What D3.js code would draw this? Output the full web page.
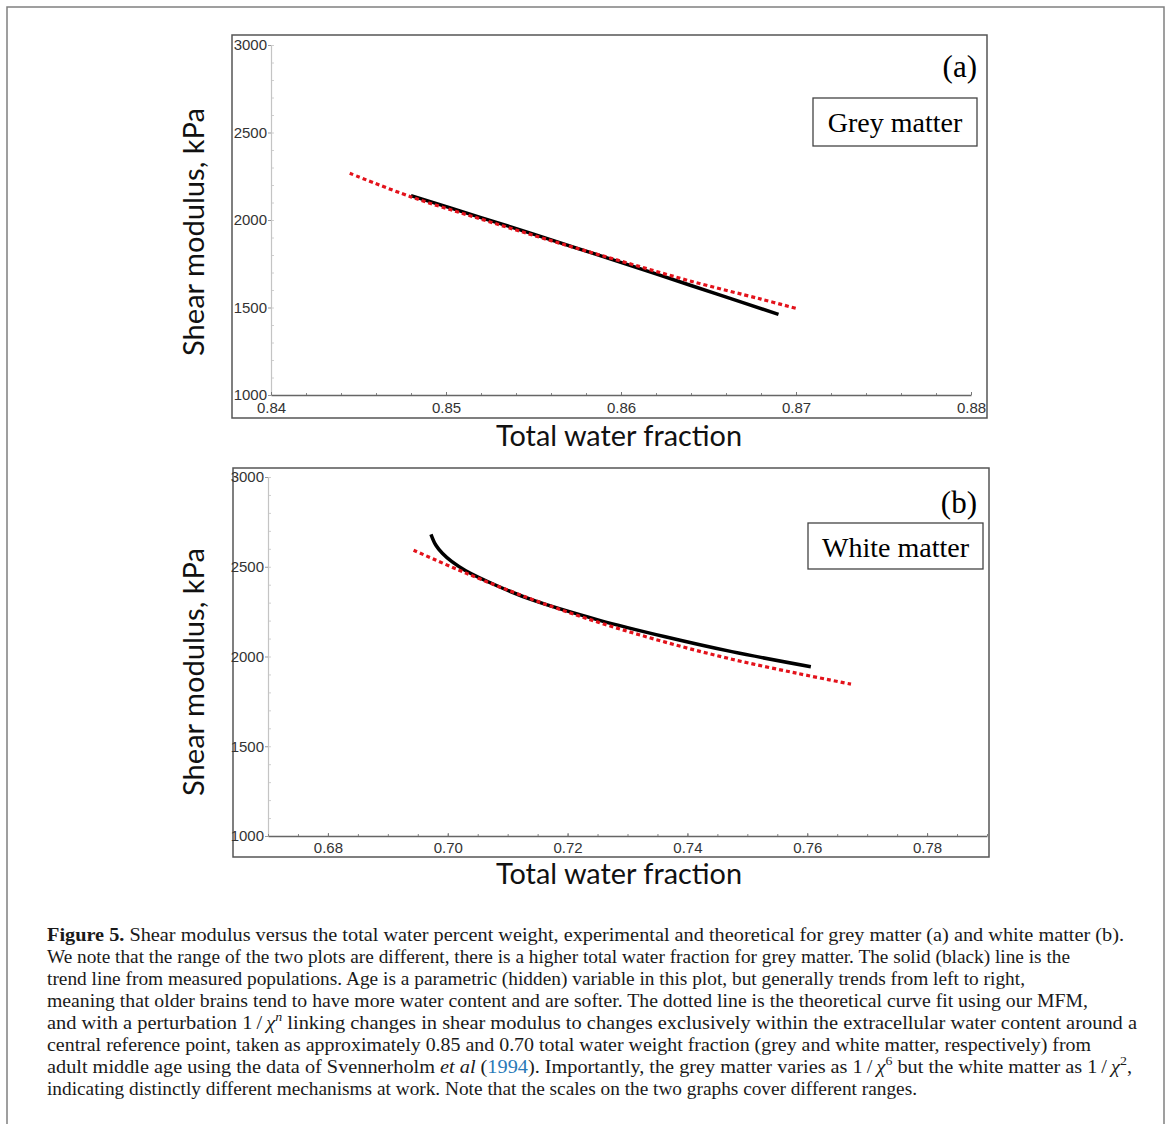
<!DOCTYPE html>
<html>
<head>
<meta charset="utf-8">
<script src="https://cdn.jsdelivr.net/npm/d3@7"></script>
<style>
  body { margin: 0; background: #fff; }
</style>
</head>
<body>
<div class="chart"></div>
<script>
// (a) grey matter: measured trend and MFM fit
const greyWater = [0.848, 0.852, 0.855, 0.8585, 0.862, 0.8655, 0.869];
const greyTrend = [2139, 2014, 1919, 1806, 1692, 1576, 1461];
const greyFitWater = [0.8445, 0.848, 0.852, 0.856, 0.860, 0.864, 0.868, 0.870];
const greyFit = [2267, 2132, 2005, 1882, 1765, 1650, 1548, 1495];
const greyXTicks = [0.84, 0.85, 0.86, 0.87, 0.88];

// (b) white matter
const whiteWater = [0.6972, 0.6980, 0.6991, 0.7007, 0.7030, 0.7085, 0.7141, 0.7252, 0.7363, 0.7474, 0.7606];
const whiteTrend = [2681, 2621, 2575, 2528, 2478, 2390, 2315, 2203, 2110, 2027, 1943];
const whiteFitWater = [0.6943, 0.7030, 0.7141, 0.7252, 0.7363, 0.7474, 0.7585, 0.7673];
const whiteFit = [2592, 2465, 2318, 2190, 2080, 1985, 1905, 1846];
const whiteXTicks = [0.68, 0.70, 0.72, 0.74, 0.76, 0.78];

const yTicks = [1000, 1500, 2000, 2500, 3000];

const width = 1170, height = 1124;

const svg = d3.select(".chart").append("svg")
    .attr("width", width)
    .attr("height", height);

// page frame
svg.append("path")
    .attr("d", "M7,1124V7H1164V1124")
    .attr("fill", "none")
    .attr("stroke", "#808080")
    .attr("stroke-width", 1.5);

const sans = "'Liberation Sans', Arial, sans-serif";
const serif = "'Liberation Serif', 'Times New Roman', serif";
const label = "Lato, 'Open Sans', sans-serif";

function panel(p) {
    const g = svg.append("g");

    g.append("rect")
        .attr("x", p.box[0])
        .attr("y", p.box[1])
        .attr("width", p.box[2] - p.box[0])
        .attr("height", p.box[3] - p.box[1])
        .attr("fill", "none")
        .attr("stroke", "#555")
        .attr("stroke-width", 1.5);

    const x = d3.scaleLinear().domain(p.xDomain).range(p.xRange);
    const y = d3.scaleLinear().domain([1000, 3000]).range(p.yRange);

    // y minor ticks
    g.append("g")
        .attr("transform", `translate(${p.xRange[0]},0)`)
        .call(d3.axisRight(y).tickValues(d3.range(1000, 3001, 100)).tickSize(3).tickSizeOuter(0).tickFormat(""))
        .call(a => a.select(".domain").remove())
        .selectAll("line").attr("stroke", "#d0d0d0");

    g.append("g")
        .attr("transform", `translate(${p.xRange[0]},0)`)
        .call(d3.axisLeft(y).tickValues(yTicks).tickSize(3).tickPadding(1).tickSizeOuter(0).tickFormat(d3.format("d")))
        .attr("font-family", sans)
        .attr("font-size", 15)
        .call(a => a.select(".domain").attr("stroke", "#c4c4c4").attr("stroke-width", 1.2))
        .call(a => a.selectAll(".tick line").attr("stroke", "#999"))
        .call(a => a.selectAll("text").attr("fill", "#333"));

    // x minor ticks
    g.append("g")
        .attr("transform", `translate(0,${p.yRange[0]})`)
        .call(d3.axisTop(x).tickValues(d3.range(p.xDomain[0], p.xDomain[1] + 1e-9, p.minor)).tickSize(2).tickSizeOuter(0).tickFormat(""))
        .call(a => a.select(".domain").remove())
        .selectAll("line").attr("stroke", "#888");

    g.append("g")
        .attr("transform", `translate(0,${p.yRange[0]})`)
        .call(d3.axisBottom(x).tickValues(p.xTicks).tickSize(-3).tickPadding(p.xPad).tickSizeOuter(0).tickFormat(d3.format(".2f")))
        .attr("font-family", sans)
        .attr("font-size", 15)
        .call(a => a.select(".domain").attr("stroke", "#666").attr("stroke-width", 1.6))
        .call(a => a.selectAll(".tick line").attr("stroke", "#777"))
        .call(a => a.selectAll("text").attr("fill", "#333"));

    const line = d3.line()
        .x(d => x(d[0]))
        .y(d => y(d[1]))
        .curve(d3.curveCatmullRom.alpha(0.5));

    g.append("path")
        .datum(d3.zip(p.trendX, p.trendY))
        .attr("fill", "none")
        .attr("stroke", "#000")
        .attr("stroke-width", 3.5)
        .attr("d", line);

    g.append("path")
        .datum(d3.zip(p.fitX, p.fitY))
        .attr("fill", "none")
        .attr("stroke", "#e3121b")
        .attr("stroke-width", 3.2)
        .attr("stroke-dasharray", "4,3")
        .attr("d", line);

    // axis titles
    g.append("text")
        .attr("x", 619)
        .attr("y", p.xTitleY)
        .attr("text-anchor", "middle")
        .attr("font-family", label)
        .attr("font-size", 28)
        .attr("fill", "#111")
        .attr("textLength", 246)
        .attr("lengthAdjust", "spacingAndGlyphs")
        .text("Total water fraction");

    g.append("text")
        .attr("transform", `translate(204,${p.yTitleY}) rotate(-90)`)
        .attr("text-anchor", "middle")
        .attr("font-family", label)
        .attr("font-size", 28)
        .attr("fill", "#111")
        .attr("textLength", 248)
        .attr("lengthAdjust", "spacingAndGlyphs")
        .text("Shear modulus, kPa");

    // panel tag and legend box
    g.append("text")
        .attr("x", 977)
        .attr("y", p.tagY)
        .attr("text-anchor", "end")
        .attr("font-family", serif)
        .attr("font-size", 31)
        .text(p.tag);

    g.append("rect")
        .attr("x", p.nameBox[0])
        .attr("y", p.nameBox[1])
        .attr("width", p.nameBox[2] - p.nameBox[0])
        .attr("height", p.nameBox[3] - p.nameBox[1])
        .attr("fill", "#fff")
        .attr("stroke", "#444")
        .attr("stroke-width", 1.3);

    g.append("text")
        .attr("x", (p.nameBox[0] + p.nameBox[2]) / 2)
        .attr("y", p.nameY)
        .attr("text-anchor", "middle")
        .attr("font-family", serif)
        .attr("font-size", 28)
        .text(p.name);
}

panel({
    box: [232, 35, 987, 418],
    xDomain: [0.84, 0.88], xRange: [271, 971],
    yRange: [395, 45],
    xTicks: greyXTicks, minor: 0.002, xPad: 7,
    trendX: greyWater, trendY: greyTrend,
    fitX: greyFitWater, fitY: greyFit,
    xTitleY: 446, yTitleY: 232,
    tag: "(a)", tagY: 77,
    nameBox: [813, 98, 977, 146], nameY: 132, name: "Grey matter"
});

panel({
    box: [233, 468, 989, 857],
    xDomain: [0.67, 0.79], xRange: [268, 987],
    yRange: [836, 477],
    xTicks: whiteXTicks, minor: 0.005, xPad: 6,
    trendX: whiteWater, trendY: whiteTrend,
    fitX: whiteFitWater, fitY: whiteFit,
    xTitleY: 884, yTitleY: 672,
    tag: "(b)", tagY: 513,
    nameBox: [808, 523, 983, 569], nameY: 557, name: "White matter"
});

// caption
const caption = [
    { end: 1124, parts: [["Figure 5.", "b"], [" Shear modulus versus the total water percent weight, experimental and theoretical for grey matter (a) and white matter (b)."]] },
    { end: 1070, parts: [["We note that the range of the two plots are different, there is a higher total water fraction for grey matter. The solid (black) line is the"]] },
    { end: 1025, parts: [["trend line from measured populations. Age is a parametric (hidden) variable in this plot, but generally trends from left to right,"]] },
    { end: 1088, parts: [["meaning that older brains tend to have more water content and are softer. The dotted line is the theoretical curve fit using our MFM,"]] },
    { end: 1137, parts: [["and with a perturbation 1\u2009/\u2009"], ["\u03c7", "i"], ["n", "sup"], [" linking changes in shear modulus to changes exclusively within the extracellular water content around a"]] },
    { end: 1091, parts: [["central reference point, taken as approximately 0.85 and 0.70 total water weight fraction (grey and white matter, respectively) from"]] },
    { end: 1132, parts: [["adult middle age using the data of Svennerholm "], ["et al", "i"], [" ("], ["1994", "link"], ["). Importantly, the grey matter varies as 1\u2009/\u2009"], ["\u03c7", "i"], ["6", "sup"], [" but the white matter as 1\u2009/\u2009"], ["\u03c7", "i"], ["2", "sup"], [","]] },
    { end: 917, parts: [["indicating distinctly different mechanisms at work. Note that the scales on the two graphs cover different ranges."]] }
];

const cap = svg.append("g")
    .attr("font-family", serif)
    .attr("font-size", 19)
    .attr("fill", "#1a1a1a");

caption.forEach((ln, i) => {
    const t = cap.append("text")
        .attr("x", 47)
        .attr("y", 941 + i * 22);
    let raised = false;
    ln.parts.forEach(([s, k]) => {
        const ts = t.append("tspan").text(s);
        if (k === "b") ts.attr("font-weight", "bold");
        if (k === "i") ts.attr("font-style", "italic");
        if (k === "link") ts.attr("fill", "#2a7ab8");
        if (k === "sup") {
            ts.attr("font-size", 13).attr("dy", -8);
            if (s === "n") ts.attr("font-style", "italic");
            raised = true;
        } else if (raised) {
            ts.attr("dy", 8);
            raised = false;
        }
    });
    t.attr("textLength", ln.end - 47).attr("lengthAdjust", "spacingAndGlyphs");
});
</script>
</body>
</html>
